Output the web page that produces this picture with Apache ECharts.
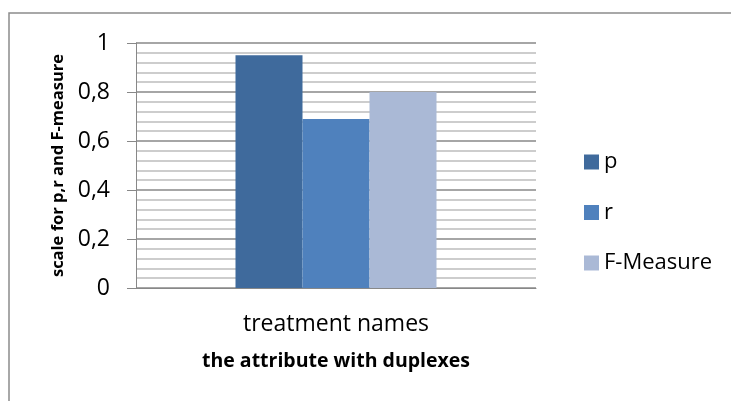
<!DOCTYPE html>
<html>
<head>
<meta charset="utf-8">
<script src="https://cdn.jsdelivr.net/npm/echarts@6/dist/echarts.min.js"></script>
<style>
  html, body { margin: 0; padding: 0; background: #fff; }
  #chart { width: 731px; height: 401px; }
</style>
</head>
<body>
<div id="chart"></div>
<script>
// Precision, recall and F-measure for the duplicate-attribute treatment
const categories = ['treatment names'];
const seriesNames = ['p', 'r', 'F-Measure'];
const pValues = [0.95];
const rValues = [0.69];
const fValues = [0.80];
const yTicks = { min: 0, max: 1, step: 0.2 };

const colors = ['#3F6A9C', '#4F81BD', '#AAB9D6'];
const font = 'Open Sans, Liberation Sans, sans-serif';

const chart = echarts.init(document.getElementById('chart'), null, { renderer: 'canvas' });

const makeBar = (name, data, color) => ({
  name: name,
  type: 'bar',
  data: data,
  barWidth: 67,
  barGap: '0%',
  itemStyle: { color: color },
  emphasis: { disabled: true }
});

chart.setOption({
  animation: false,
  backgroundColor: '#fff',
  textStyle: { fontFamily: font },
  grid: { left: 136, right: 195, top: 43, bottom: 113, containLabel: false },
  legend: {
    orient: 'vertical',
    left: 579,
    top: 146,
    itemWidth: 15,
    itemHeight: 15,
    itemGap: 28.5,
    icon: 'rect',
    textStyle: { fontSize: 22, color: '#000', fontFamily: font, lineHeight: 15 },
    data: seriesNames
  },
  xAxis: {
    type: 'category',
    data: categories,
    name: 'the attribute with duplexes',
    nameLocation: 'middle',
    nameGap: 63,
    nameTextStyle: { fontSize: 19.5, fontWeight: 'bold', color: '#000', fontFamily: font },
    axisLine: { show: true, lineStyle: { color: '#888', width: 1 } },
    axisTick: { show: false },
    axisLabel: { fontSize: 23, color: '#000', margin: 25, fontFamily: font }
  },
  yAxis: {
    type: 'value',
    min: yTicks.min,
    max: yTicks.max,
    interval: yTicks.step,
    name: 'scale for p,r and F-measure',
    nameLocation: 'middle',
    nameRotate: 90,
    nameGap: 61,
    nameTextStyle: { fontSize: 16.5, fontWeight: 'bold', color: '#000', fontFamily: font },
    axisLine: { show: true, lineStyle: { color: '#888', width: 1 } },
    axisTick: { show: true, inside: false, length: 9, lineStyle: { color: '#888' } },
    axisLabel: {
      fontSize: 23,
      color: '#000',
      margin: 26,
      fontFamily: font,
      formatter: v => String(Math.round(v * 10) / 10).replace('.', ',')
    },
    splitLine: { show: true, lineStyle: { color: '#888', width: 1.5 } },
    minorTick: { show: false, splitNumber: 5 },
    minorSplitLine: { show: true, lineStyle: { color: '#bdbdbd', width: 1.5 } }
  },
  graphic: [
    {
      type: 'polyline',
      shape: { points: [[9, 401], [9, 13], [731, 13]] },
      style: { stroke: '#8c8c8c', lineWidth: 1.5, fill: null },
      silent: true
    }
  ],
  series: [
    makeBar(seriesNames[0], pValues, colors[0]),
    makeBar(seriesNames[1], rValues, colors[1]),
    makeBar(seriesNames[2], fValues, colors[2])
  ]
});
</script>
</body>
</html>
